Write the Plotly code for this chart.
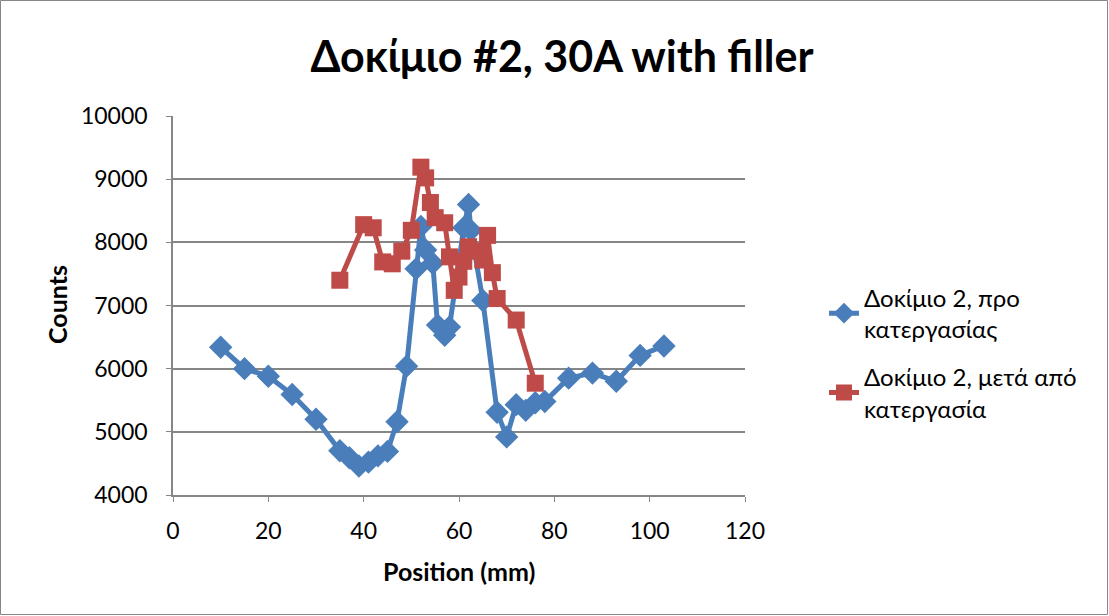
import plotly.graph_objects as go

# Position (mm) and counts, specimen 2 before processing
before_x = [10, 15, 20, 25, 30, 35, 37, 39, 41, 43, 45, 47, 49, 51, 52, 53, 54.5,
            55.5, 57, 58, 61, 62, 62.5, 65, 68, 70, 72, 74, 76, 78, 83, 88, 93, 98, 103]
before_y = [6340, 6000, 5880, 5590, 5200, 4700, 4590, 4460, 4520, 4620, 4690, 5160, 6040,
            7580, 8250, 7880, 7670, 6690, 6530, 6660, 8230, 8600, 8190, 7080, 5310, 4920,
            5430, 5340, 5460, 5480, 5850, 5930, 5800, 6210, 6360]

# Position (mm) and counts, specimen 2 after processing
after_x = [35, 40, 42, 44, 46, 48, 50, 52, 53, 54, 55, 57, 58, 59, 60, 61, 62, 64,
           65, 66, 67, 68, 72, 76]
after_y = [7400, 8280, 8230, 7690, 7660, 7860, 8190, 9190, 9020, 8630, 8390, 8310, 7770,
           7240, 7450, 7700, 7930, 7860, 7720, 8110, 7520, 7110, 6770, 5770]

x_ticks = [0, 20, 40, 60, 80, 100, 120]
y_ticks = [4000, 5000, 6000, 7000, 8000, 9000, 10000]
y_tick_text = [str(v) for v in y_ticks]

FONT = "Lato, Open Sans, sans-serif"
W, H = 1109, 616
L, R, T, B = 173, 745, 116, 495  # plot area in pixels


def px(xp):
    return (xp - L) / (R - L)


def py(yp):
    return (B - yp) / (B - T)


fig = go.Figure()
fig.add_trace(go.Scatter(
    x=before_x, y=before_y, mode="lines+markers",
    name="Δοκίμιο 2, προ<br>κατεργασίας", legendgroup="before",
    line=dict(color="#4A7EBB", width=5),
    marker=dict(symbol="diamond", size=18, color="#4A7EBB"),
))
fig.add_trace(go.Scatter(
    x=after_x, y=after_y, mode="lines+markers",
    name="Δοκίμιο 2, μετά από<br>κατεργασία", legendgroup="after",
    line=dict(color="#BE4B48", width=5),
    marker=dict(symbol="square", size=17, color="#BE4B48"),
))

fig.update_layout(
    width=W, height=H,
    margin=dict(l=L, r=W - R, t=T, b=H - B),
    paper_bgcolor="white", plot_bgcolor="white",
    font=dict(family=FONT, size=23, color="black"),
    title=dict(
        text="<b>Δοκίμιο #2, 30A with filler</b>",
        font=dict(family=FONT, size=43, color="black"),
        xref="paper", x=px(562), xanchor="center",
        yref="container", y=1 - 57 / H, yanchor="middle",
    ),
    xaxis=dict(
        range=[0, 120], tickvals=x_ticks, showgrid=False, zeroline=False,
        showline=True, linecolor="#868686", linewidth=1.5,
        ticks="outside", ticklen=5, tickcolor="#868686",
        tickfont=dict(size=23), ticklabelstandoff=10, fixedrange=True,
    ),
    yaxis=dict(
        range=[4000, 10000], tickvals=y_ticks, ticktext=y_tick_text,
        showgrid=True, gridcolor="#868686", gridwidth=1.5, zeroline=False,
        showline=True, linecolor="#868686", linewidth=1.5,
        ticks="outside", ticklen=5, tickcolor="#868686",
        tickfont=dict(size=23), ticklabelstandoff=14, fixedrange=True,
    ),
    legend=dict(
        x=px(824), xanchor="left", y=py(353), yanchor="middle",
        font=dict(family=FONT, size=24), tracegroupgap=14,
        bgcolor="rgba(0,0,0,0)",
    ),
    showlegend=True,
)

fig.add_annotation(
    text="<b>Counts</b>", xref="paper", yref="paper", x=px(57), y=py(305),
    xanchor="center", yanchor="middle", textangle=-90, showarrow=False,
    font=dict(family=FONT, size=25),
)
fig.add_annotation(
    text="<b>Position (mm)</b>", xref="paper", yref="paper", x=px(459), y=py(571),
    xanchor="center", yanchor="middle", showarrow=False,
    font=dict(family=FONT, size=25),
)

# outer chart frame
fig.add_shape(
    type="rect", xref="paper", yref="paper",
    x0=px(0.5), x1=px(W - 1.5), y0=py(H - 1.5), y1=py(0.5),
    line=dict(color="#868686", width=1), layer="below",
)

fig.write_html("out.html")
